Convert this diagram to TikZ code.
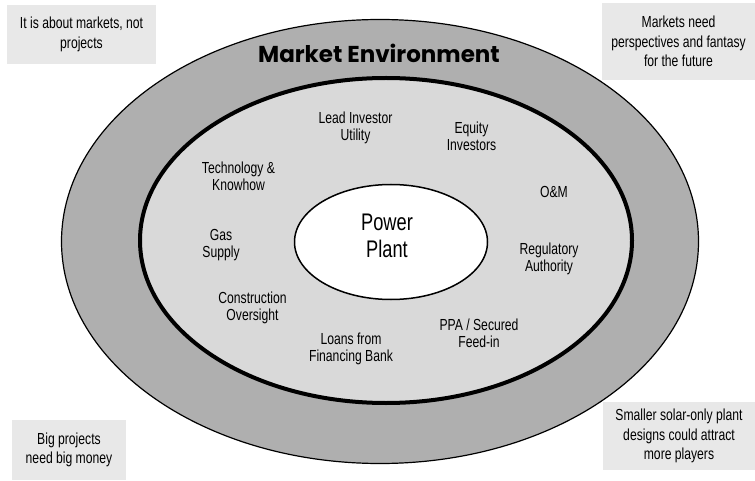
\documentclass[tikz,border=0pt]{standalone}
\usepackage{fontspec}
\setmainfont{Liberation Sans}[FakeStretch=0.76]
\newfontfamily\titlefont{Poppins}
\usetikzlibrary{positioning}
\usetikzlibrary{shapes.geometric}
\definecolor{ringgray}{HTML}{AFAFAF}
\definecolor{fieldgray}{HTML}{D9D9D9}
\definecolor{notegray}{HTML}{E8E8E8}
\tikzset{
	actor/.style={align=center, inner sep=0pt, font=\fontsize{16}{17}\selectfont},
	note/.style={fill=notegray, align=center, inner sep=0pt, font=\fontsize{16}{19.5}\selectfont},
}

\begin{document}
\begin{tikzpicture}[x=1pt,y=-1pt]
			\useasboundingbox (0,0) rectangle (755,481);
			% rings
			\node at (380,241.5) (market) [ellipse, draw, line width=1.2pt, fill=ringgray, inner sep=0pt, minimum width=637pt, minimum height=444pt] {};
			\node at (386,240.5) (field) [ellipse, draw, line width=4pt, fill=fieldgray, inner sep=0pt, minimum width=492pt, minimum height=325pt] {};
			\node at (391,242) (plant) [ellipse, draw, line width=1.5pt, fill=white, inner sep=0pt, minimum width=193pt, minimum height=115pt] {};
			\node at (387,236) (plantlbl) [align=center, font=\fontsize{24}{26.5}\selectfont] {Power\\Plant};
			\node at (379,53) (mktlbl) [font=\titlefont\bfseries\fontsize{23}{26}\selectfont] {Market Environment};
			% players round the plant
			\node at (355.5,127.5) (lead) [actor] {Lead Investor\\Utility};
			\node at (471.5,136.5) (equity) [actor] {Equity\\Investors};
			\node at (238.5,176.5) (tech) [actor] {Technology \&\\Knowhow};
			\node at (554,191.5) (om) [actor] {O\&M};
			\node at (221,245.5) (gas) [actor] {Gas\\Supply};
			\node at (549,259) (reg) [actor] {Regulatory\\Authority};
			\node at (252.5,307.5) (constr) [actor] {Construction\\Oversight};
			\node at (479,333) (ppa) [actor] {PPA / Secured\\Feed-in};
			\node at (351,349) (loans) [actor] {Loans from\\Financing Bank};
			% remarks in the corners
			\node at (81.5,34.5) (notetl) [note, minimum width=149pt, minimum height=59pt] {It is about markets, not\\projects};
			\node at (678.5,41.5) (notetr) [note, minimum width=153pt, minimum height=77pt] {Markets need\\perspectives and fantasy\\for the future};
			\node at (69,450) (notebl) [note, minimum width=114pt, minimum height=60pt] {Big projects\\need big money};
			\node at (679,436) (notebr) [note, minimum width=152pt, minimum height=68pt] {Smaller solar-only plant\\designs could attract\\more players};
			\end{tikzpicture}
\end{document}
